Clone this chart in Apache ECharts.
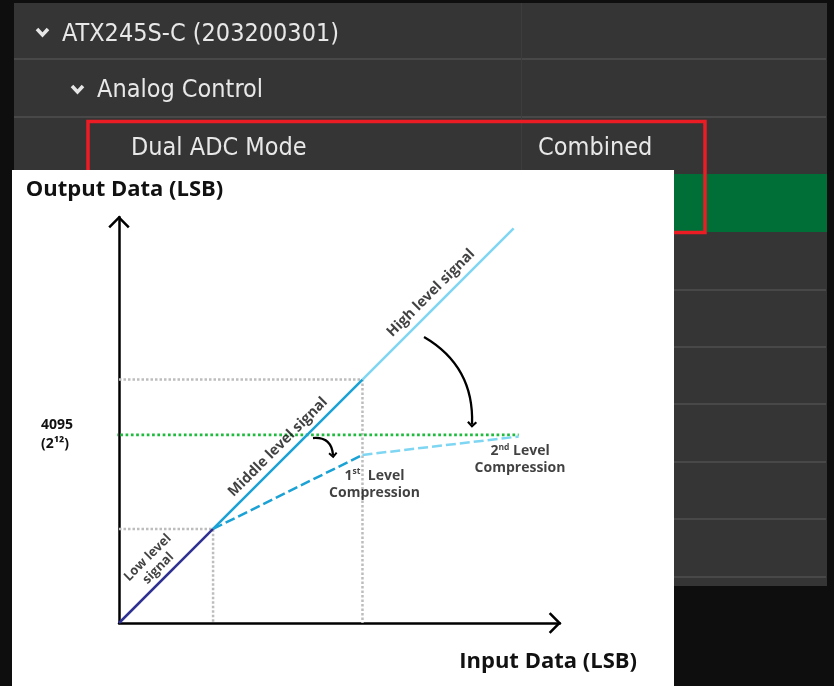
<!DOCTYPE html>
<html>
<head>
<meta charset="utf-8">
<title>Dual ADC Mode</title>
<script src="https://cdn.jsdelivr.net/npm/echarts@6.0.0/dist/echarts.min.js"></script>
<style>
html,body{margin:0;padding:0;background:#0e0e0e;}
#main{width:834px;height:686px;}
</style>
</head>
<body>
<div id="main"></div>
<script>
// values in LSB (4095 = 2^12 marks the green limit)
var lowSignal = [[0, 0], [2048, 2048]];
var middleSignal = [[2048, 2048], [5300, 5300]];
var highSignal = [[5300, 5300], [8590, 8590]];
var firstCompression = [[2048, 2048], [5300, 3660]];
var secondCompression = [[5300, 3660], [8700, 4060]];
var limitLine = [[-780, 4095], [8700, 4095]];
var lowGuide = [[0, 2048], [2048, 2048], [2048, 0]];
var middleGuide = [[0, 5300], [5300, 5300], [5300, 0]];

var yTickValues = [4095];
var yTickLabels = ['4095\n(2¹²)'];

// curved hint arrows (start, end)
var smallArrow = [[4223, 4027], [4659, 3652]];
var bigArrow = [[6640, 6226], [7685, 4321]];

var noteTexts = [
    'Low level\nsignal',
    'Middle level signal',
    'High level signal',
    '{n|1}{s|st}{n|  Level}\n{n|Compression}',
    '{n|2}{s|nd}{n| Level}\n{n|Compression}'
];
var noteCoords = [[740, 1306], [3461, 3832], [6792, 7184], [5562, 3015], [8730, 3549]];
var noteAngles = [45, 45, 45, 0, 0];
var noteSizes = [13, 14.5, 14.5, 14, 14];

var treeLabels = ['ATX245S-C (203200301)', 'Analog Control', 'Dual ADC Mode', 'Combined'];
var rowLines = [59, 117, 290, 347, 404, 462, 519, 577];

var chartFont = "'Open Sans', 'Noto Sans', sans-serif";
var uiFont = "'DejaVu Sans Condensed', 'Liberation Sans', sans-serif";
var axisArrow = 'path://M0,10.5 L10.5,0 L21,10.5 L19.23,12.27 L10.5,3.54 L1.77,12.27 Z';
var headArrow = 'path://M0,5 L5,0 L10,5 L8.44,6.56 L5,3.1 L1.56,6.56 Z';

var chart = echarts.init(document.getElementById('main'));

// dark settings panel behind the figure
var graphics = [];
graphics.push({type: 'rect', z: -5, shape: {x: 14, y: 3, width: 813, height: 583}, style: {fill: '#353535'}});
rowLines.forEach(function(y){
    graphics.push({type: 'line', z: -5, shape: {x1: 14, y1: y, x2: 826, y2: y}, style: {stroke: '#484848', lineWidth: 2}});
});
graphics.push({type: 'line', z: -5, shape: {x1: 521.5, y1: 3, x2: 521.5, y2: 586}, style: {stroke: '#3d3d3d', lineWidth: 1}});
graphics.push({type: 'rect', z: -5, shape: {x: 14, y: 174, width: 813, height: 58}, style: {fill: '#006f37'}});
graphics.push({type: 'polyline', z: -5, shape: {points: [[37, 29], [42.5, 35], [48, 29]]}, style: {stroke: '#e6e6e6', lineWidth: 3.5, fill: 'none'}});
graphics.push({type: 'polyline', z: -5, shape: {points: [[72, 86], [77.5, 92], [83, 86]]}, style: {stroke: '#e6e6e6', lineWidth: 3.5, fill: 'none'}});
var treePos = [[62, 34], [97, 90], [131, 148], [538, 148]];
treeLabels.forEach(function(t, i){
    graphics.push({type: 'text', z: -5, x: treePos[i][0], y: treePos[i][1],
        style: {text: t, font: '25px ' + uiFont, fill: '#e8e8e8', verticalAlign: 'middle', textVerticalAlign: 'middle'}});
});
graphics.push({type: 'rect', z: -5, shape: {x: 88, y: 121.5, width: 617, height: 111}, style: {fill: 'none', stroke: '#ec1c24', lineWidth: 3.5}});
graphics.push({type: 'rect', z: -4, shape: {x: 12, y: 170, width: 662, height: 516}, style: {fill: '#ffffff'}});

function plain(name, data, color, width, type, extra){
    var s = {
        name: name, type: 'line', data: data, symbol: 'none', silent: true,
        lineStyle: {color: color, width: width, type: type || 'solid'}
    };
    if (extra) { for (var k in extra) s[k] = extra[k]; }
    return s;
}

var option = {
    animation: false,
    backgroundColor: '#0e0e0e',
    graphic: graphics,
    grid: {left: 119, top: 217, width: 441, height: 406, outerBoundsMode: 'none'},
    xAxis: {
        type: 'value', min: 0, max: 9600,
        name: 'Input Data (LSB)', nameLocation: 'end', nameGap: 77,
        nameTextStyle: {fontFamily: chartFont, fontSize: 22, fontWeight: 'bold', color: '#111',
            align: 'right', verticalAlign: 'top', padding: [28, 0, 0, 0]},
        axisLine: {lineStyle: {color: '#000', width: 2.5}, symbol: ['none', axisArrow],
            symbolSize: [21.5, 12.5], symbolOffset: [0, -5]},
        axisTick: {show: false}, axisLabel: {show: false}, splitLine: {show: false}
    },
    yAxis: {
        type: 'value', min: 0, max: 8840,
        name: 'Output Data (LSB)', nameLocation: 'end', nameGap: 16,
        nameTextStyle: {fontFamily: chartFont, fontSize: 22, fontWeight: 'bold', color: '#111',
            align: 'center', verticalAlign: 'bottom', padding: [0, 0, 0, 11]},
        axisLine: {lineStyle: {color: '#000', width: 2.5}, symbol: ['none', axisArrow],
            symbolSize: [21.5, 12.5], symbolOffset: [0, -5]},
        axisTick: {show: false},
        axisLabel: {
            customValues: yTickValues,
            formatter: function(v){ return yTickLabels[yTickValues.indexOf(v)] || ''; },
            align: 'left', margin: 78, fontFamily: chartFont, fontSize: 14, fontWeight: 'bold',
            lineHeight: 19, color: '#111'
        },
        splitLine: {show: false}
    },
    series: [
        plain('lowGuide', lowGuide, '#bdbdbd', 2.5, [2.5, 2]),
        plain('middleGuide', middleGuide, '#bdbdbd', 2.5, [2.5, 2]),
        plain('4095', limitLine, '#1fba3e', 2.7, [2.7, 2.6], {clip: false}),
        plain('1st Level Compression', firstCompression, '#1aa2d5', 2.5, [10, 4]),
        plain('2nd Level Compression', secondCompression, '#7fd6f2', 2.5, [10, 4]),
        plain('Low level signal', lowSignal, '#2e3192', 2.5),
        plain('Middle level signal', middleSignal, '#1aa2d5', 2.5),
        plain('High level signal', highSignal, '#7fd6f2', 2.5),
        {
            type: 'lines', coordinateSystem: 'cartesian2d', silent: true, z: 5,
            symbol: ['none', headArrow], symbolSize: [0, [9, 6]],
            lineStyle: {color: '#000', width: 2.3, curveness: 0.5, opacity: 1},
            data: [{coords: smallArrow}]
        },
        {
            type: 'lines', coordinateSystem: 'cartesian2d', silent: true, z: 5,
            symbol: ['none', headArrow], symbolSize: [0, [10, 6.6]],
            lineStyle: {color: '#000', width: 2.3, curveness: 0.3, opacity: 1},
            data: [{coords: bigArrow}]
        },
        {
            type: 'scatter', silent: true, symbolSize: 0, z: 6,
            data: noteTexts.map(function(t, i){
                return {name: t, value: noteCoords[i], label: {rotate: noteAngles[i], fontSize: noteSizes[i]}};
            }),
            label: {
                show: true, position: 'inside', color: '#111', fontFamily: chartFont,
                fontSize: 14.5, fontWeight: 'bold', lineHeight: 15, align: 'center',
                formatter: function(p){ return p.name; },
                rich: {
                    n: {fontFamily: chartFont, fontSize: 14, fontWeight: 'bold', lineHeight: 17, color: '#111'},
                    s: {fontFamily: chartFont, fontSize: 8.5, fontWeight: 'bold', lineHeight: 9, verticalAlign: 'top', color: '#111'}
                }
            }
        }
    ]
};
chart.setOption(option);
</script>
</body>
</html>
